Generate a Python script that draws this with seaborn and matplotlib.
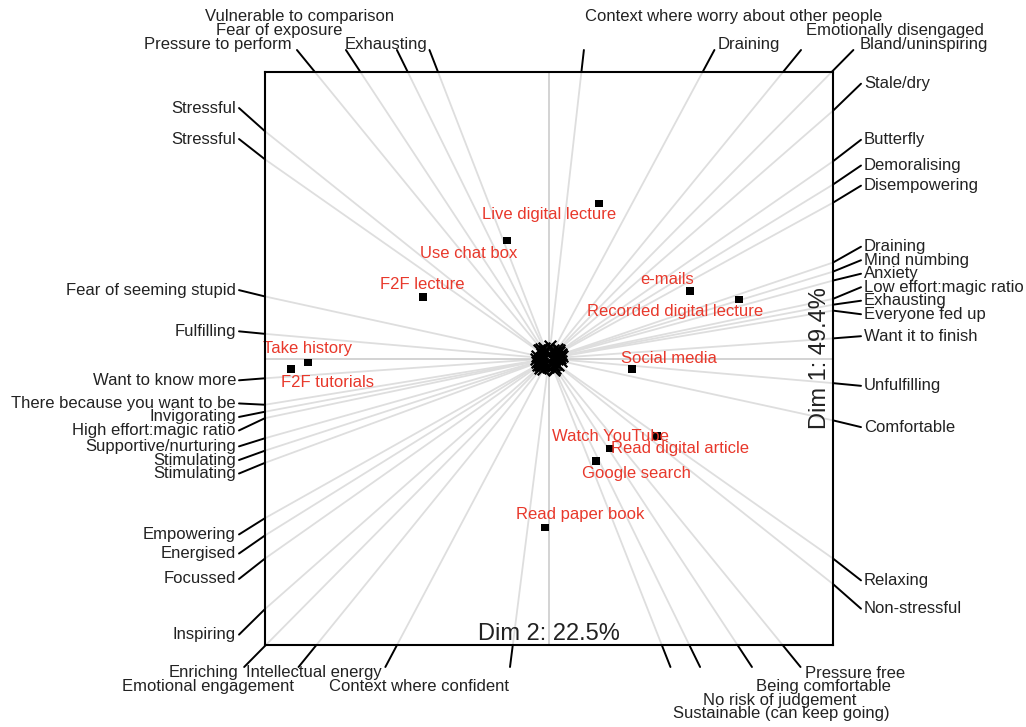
import numpy as np
import matplotlib
matplotlib.use("Agg")
import matplotlib.pyplot as plt
from matplotlib.lines import Line2D
from matplotlib.transforms import IdentityTransform
import seaborn as sns

# ---------- Data ----------
# Row points (activities / contexts)
row_labels = ["Live digital lecture", "Use chat box", "F2F lecture", "e-mails",
              "Recorded digital lecture", "Take history", "F2F tutorials",
              "Social media", "Watch YouTube", "Read digital article",
              "Google search", "Read paper book"]
row_x = [0.176, -0.148, -0.444, 0.496, 0.669, -0.849, -0.908, 0.292, 0.215, 0.380, 0.165, -0.014]
row_y = [0.541, 0.412, 0.216, 0.237, 0.206, -0.014, -0.038, -0.038, -0.314, -0.272, -0.359, -0.590]

# Column points (feelings), all close to the origin
col_labels = [
    # top
    "Pressure to perform", "Fear of exposure", "Vulnerable to comparison", "Exhausting",
    "Context where worry about other people", "Draining", "Emotionally disengaged",
    "Bland/uninspiring",
    # right
    "Stale/dry", "Butterfly", "Demoralising", "Disempowering", "Draining", "Mind numbing",
    "Anxiety", "Low effort:magic ratio", "Exhausting", "Everyone fed up",
    "Want it to finish", "Unfulfilling", "Comfortable", "Relaxing", "Non-stressful",
    # left
    "Stressful", "Stressful", "Fear of seeming stupid", "Fulfilling", "Want to know more",
    "There because you want to be", "Invigorating", "High effort:magic ratio",
    "Supportive/nurturing", "Stimulating", "Stimulating", "Empowering", "Energised",
    "Focussed", "Inspiring",
    # bottom
    "Enriching", "Emotional engagement", "Intellectual energy", "Context where confident",
    "Sustainable (can keep going)", "No risk of judgement", "Being comfortable",
    "Pressure free",
]
col_x = [
    -0.0286, -0.0166, -0.0187, -0.0102, 0.0051, 0.0152, 0.0267, 0.0212,
    0.0340, 0.0247, 0.0359, 0.0228, 0.0427, 0.0287, 0.0386, 0.0245, 0.0442, 0.0335,
    0.0399, 0.0279, 0.0440, 0.0328, 0.0235,
    -0.0353, -0.0246, -0.0411, -0.0279, -0.0449, -0.0316, -0.0393, -0.0245,
    -0.0424, -0.0286, -0.0357, -0.0393, -0.0238, -0.0328, -0.0263,
    -0.0318, -0.0190, -0.0198, -0.0038, 0.0166, 0.0124, 0.0221, 0.0190,
]
col_y = [
    0.0347, 0.0250, 0.0376, 0.0261, 0.0447, 0.0281, 0.0324, 0.0213,
    0.0294, 0.0170, 0.0218, 0.0124, 0.0143, 0.0087, 0.0105, 0.0051, 0.0083, 0.0056,
    0.0028, -0.0024, -0.0095, -0.0229, -0.0185,
    0.0280, 0.0171, 0.0089, 0.0024, -0.0031, -0.0051, -0.0073, -0.0051,
    -0.0118, -0.0092, -0.0130, -0.0219, -0.0147, -0.0229, -0.0230,
    -0.0319, -0.0232, -0.0370, -0.0298, -0.0418, -0.0251, -0.0333, -0.0231,
]

dim1_label = "Dim 1: 49.4%"
dim2_label = "Dim 2: 22.5%"

# label offsets of the red row labels (pixels)
row_label_offsets = [(-50, -11), (-38, -13), (-1, 12), (-23, 11), (-64, -12), (0, 14),
                     (36, -13), (37, 11), (0, 12), (23, -12), (41, -12), (35, 13)]

# ---------- Style ----------
sns.set_theme(style="white")
plt.rcParams["font.family"] = ["Liberation Sans", "DejaVu Sans"]

RED = "#e8382b"
TXT = "#222222"
RAY = "#dedede"
W, H = 1026, 727

fig = plt.figure(figsize=(W / 100, H / 100), dpi=100)
ax = fig.add_axes([265 / W, 1 - 645 / H, 568 / W, 573 / H])
ax.set_xlim(-1, 1)
ax.set_ylim(-1, 1)
ax.autoscale(False)

# rays from origin through every column point (clipped by the box)
for x, y in zip(col_x, col_y):
    ax.plot([0, x * 100], [0, y * 100], color=RAY, lw=1.3, zorder=1)
ax.axhline(0, color="#cccccc", lw=1.2, zorder=1)
ax.axvline(0, color="#cccccc", lw=1.2, zorder=1)

sns.scatterplot(x=col_x, y=col_y, marker="x", color="black", s=70, linewidth=1.6,
                ax=ax, zorder=3)
sns.scatterplot(x=row_x, y=row_y, marker="s", color="black", s=32, edgecolor="none",
                ax=ax, zorder=3)

for lab, x, y, off in zip(row_labels, row_x, row_y, row_label_offsets):
    ax.annotate(lab, (x, y), xytext=off, textcoords="offset pixels", ha="center",
                va="center", color=RED, fontsize=12, zorder=4)

ax.annotate(dim2_label, (0, -1), xytext=(0, 5), textcoords="offset pixels",
            ha="center", va="baseline", fontsize=17, color=TXT)
ax.annotate(dim1_label, (1, 0), xytext=(-13, 0), textcoords="offset pixels",
            ha="center", va="center", rotation=90, fontsize=17, color=TXT)

ax.set_xticks([])
ax.set_yticks([])
for sp in ax.spines.values():
    sp.set_color("black")
    sp.set_linewidth(1.5)
    sp.set_zorder(5)

# ---------- Column labels outside the box ----------
fig.canvas.draw()
renderer = fig.canvas.get_renderer()
cx0, cy0 = ax.transData.transform((0, 0))
ID = IdentityTransform()


def spread(ideal, gap):
    idx = sorted(ideal, key=lambda k: ideal[k])
    groups = []
    for k in idx:
        groups.append([k])
        while len(groups) > 1:
            a, b = groups[-2], groups[-1]
            sa = np.mean([ideal[j] for j in a]) - (len(a) - 1) * gap / 2
            sb = np.mean([ideal[j] for j in b]) - (len(b) - 1) * gap / 2
            if sb - (sa + (len(a) - 1) * gap) < gap:
                groups[-2:] = [a + b]
            else:
                break
    out = {}
    for g in groups:
        s = np.mean([ideal[j] for j in g]) - (len(g) - 1) * gap / 2
        for n, j in enumerate(g):
            out[j] = s + n * gap
    return out


sides = {"left": {}, "right": {}, "top": {}, "bottom": {}}
info = {}
for i, (x, y) in enumerate(zip(col_x, col_y)):
    tx = 1 / abs(x) if x != 0 else np.inf
    ty = 1 / abs(y) if y != 0 else np.inf
    t = min(tx, ty)
    bx, by = ax.transData.transform((x * t, y * t))
    if tx <= ty:
        side = "right" if x > 0 else "left"
        lx = bx + 31 if side == "right" else bx - 29
        sides[side][i] = cy0 + (by - cy0) * (lx - cx0) / (bx - cx0)
    else:
        side = "top" if y > 0 else "bottom"
        sgn = 1 if side == "top" else -1
        ly = by + 28 * sgn
        sides[side][i] = cx0 + (bx - cx0) * (ly - cy0) / (by - cy0)
    info[i] = (side, bx, by)

for side in ("left", "right"):
    pos = spread(sides[side], 13.5)
    for i, ly in pos.items():
        _, bx, by = info[i]
        if side == "right":
            lx, ex, ha = bx + 31, bx + 28, "left"
        else:
            lx, ex, ha = bx - 29, bx - 26, "right"
        fig.add_artist(Line2D([bx, ex], [by, ly], transform=ID, color="black", lw=1.4))
        fig.text(lx, ly, col_labels[i], transform=ID, ha=ha, va="center",
                 fontsize=12, color=TXT)

for side in ("top", "bottom"):
    sgn = 1 if side == "top" else -1
    placed = []
    items = sorted(sides[side], key=lambda k: -abs(sides[side][k] - cx0))
    for i in items:
        ix = sides[side][i]
        _, bx, by = info[i]
        ha = "right" if col_x[i] < 0 else "left"
        t = fig.text(ix, by + 28 * sgn, col_labels[i], transform=ID, ha=ha,
                     va="center", fontsize=12, color=TXT)
        w = t.get_window_extent(renderer).width
        x0, x1 = (ix - w, ix) if ha == "right" else (ix, ix + w)
        row = 0
        while any(r == row and not (x1 + 3 < p0 or x0 - 3 > p1) for p0, p1, r in placed):
            row += 1
        placed.append((x0, x1, row))
        t.set_position((ix, by + sgn * (28 + 13.5 * row)))
        ey = by + 22 * sgn
        exx = cx0 + (bx - cx0) * (ey - cy0) / (by - cy0)
        fig.add_artist(Line2D([bx, exx], [by, ey], transform=ID, color="black", lw=1.4))

fig.savefig("out.png", dpi=100)
